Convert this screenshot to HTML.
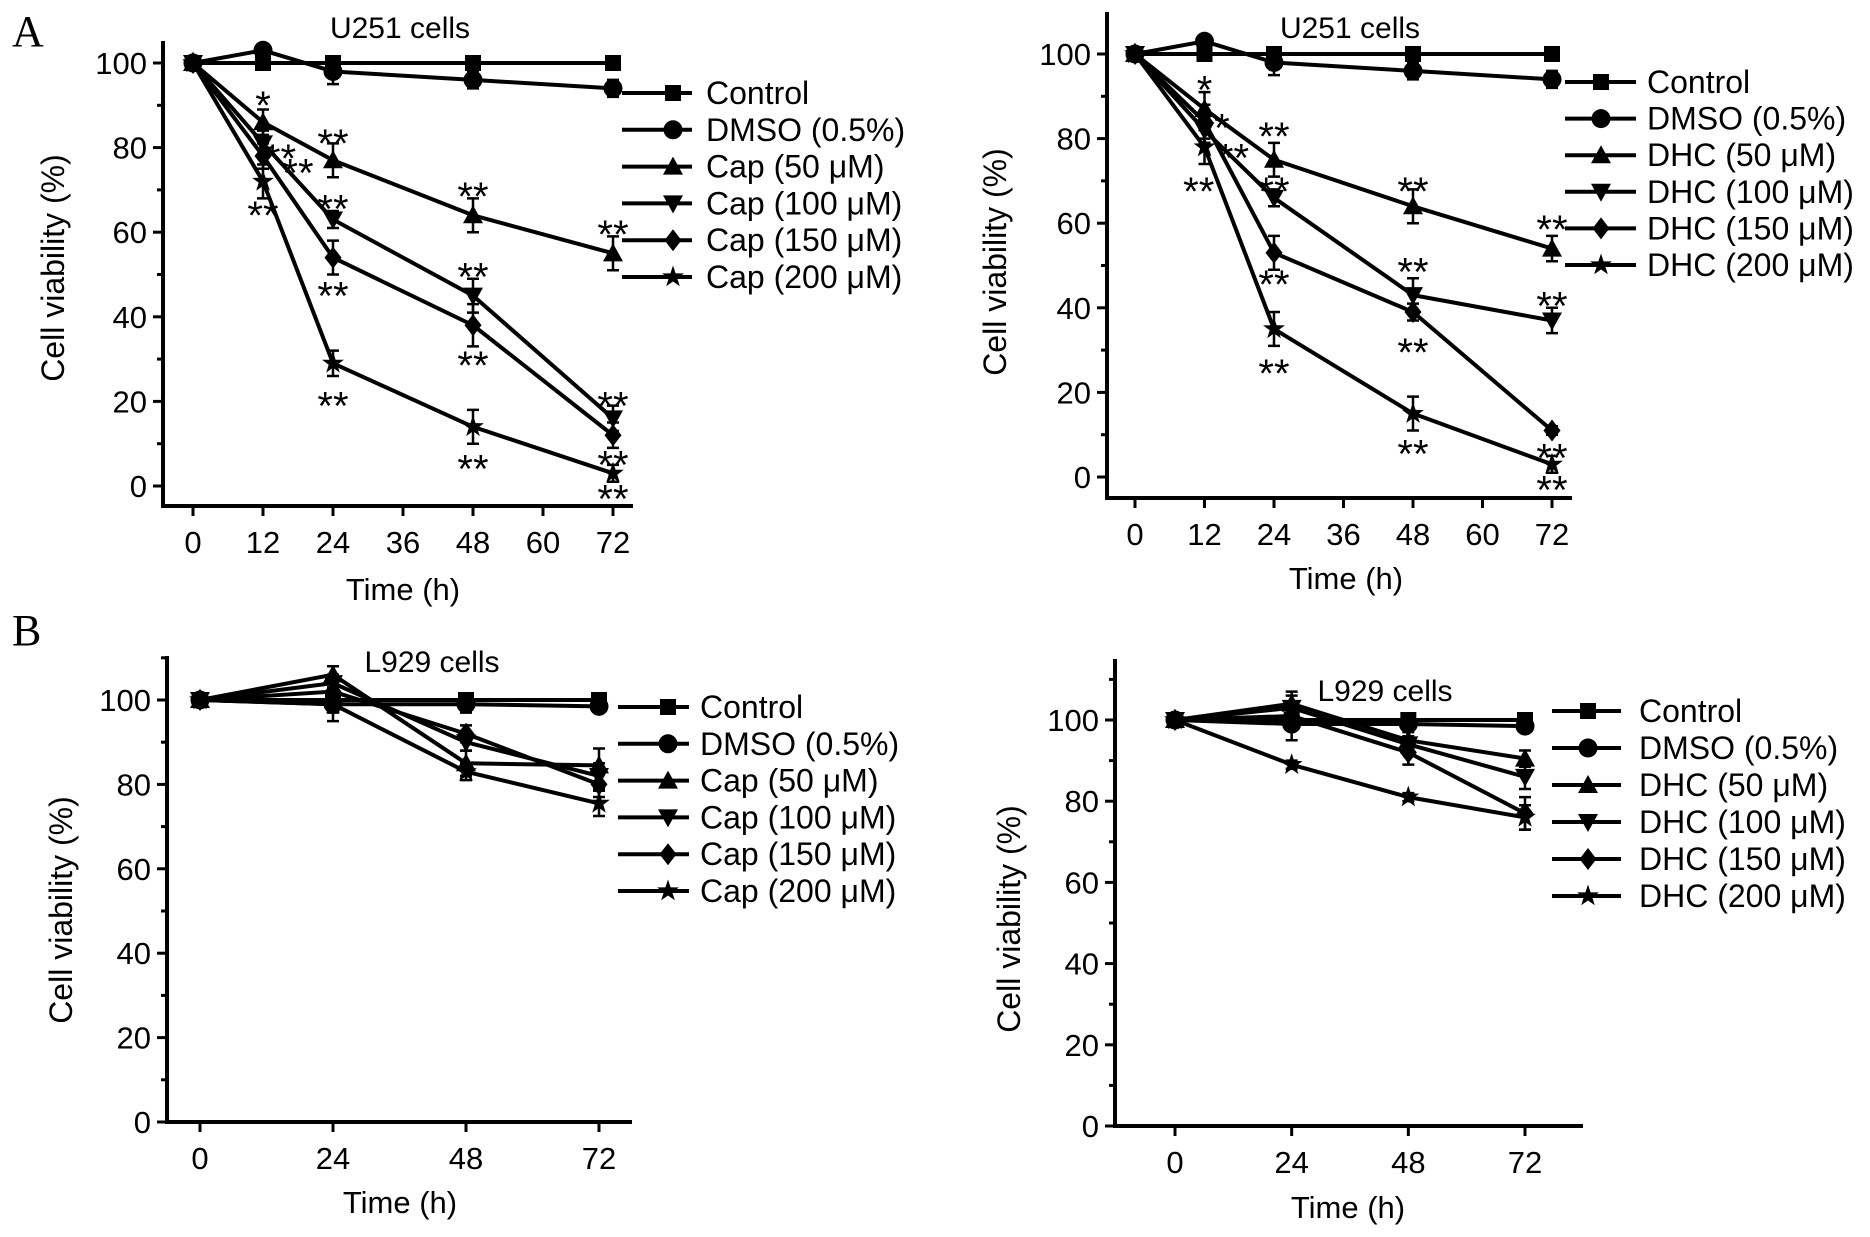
<!DOCTYPE html>
<html><head><meta charset="utf-8"><style>
html,body{margin:0;padding:0;background:#fff;}
svg{display:block;}
text{font-family:"Liberation Sans",Arial,sans-serif;fill:#000;}
</style></head><body>
<svg id="fig" width="1870" height="1237" viewBox="0 0 1870 1237" xmlns="http://www.w3.org/2000/svg">
<text x="12" y="46" style="font-family:'Liberation Serif',serif;font-size:44px">A</text>
<text x="12" y="645" style="font-family:'Liberation Serif',serif;font-size:44px">B</text>
</svg>
<script>
// ---- Data ----
const timesA = [0, 12, 24, 48, 72];
const timesB = [0, 24, 48, 72];
const ticksA = [0, 12, 24, 36, 48, 60, 72];
const ticksB = [0, 24, 48, 72];
const yTicks = [0, 20, 40, 60, 80, 100];
const capLabels = ["Control", "DMSO (0.5%)", "Cap (50 \u03bcM)", "Cap (100 \u03bcM)", "Cap (150 \u03bcM)", "Cap (200 \u03bcM)"];
const dhcLabels = ["Control", "DMSO (0.5%)", "DHC (50 \u03bcM)", "DHC (100 \u03bcM)", "DHC (150 \u03bcM)", "DHC (200 \u03bcM)"];
const markers = ["square", "circle", "tri-up", "tri-down", "diamond", "star"];

// A-left: Cap on U251
const capU251 = [
  [100, 100, 100, 100, 100],
  [100, 103, 98, 96, 94],
  [100, 86, 77, 64, 55],
  [100, 81, 63, 45, 16],
  [100, 78, 54, 38, 12],
  [100, 72, 29, 14, 3]
];
const capU251Err = [
  [0, 1, 1, 1, 1],
  [0, 1, 3, 2, 2],
  [0, 3, 4, 4, 4],
  [0, 3, 2, 4, 3],
  [0, 3, 4, 5, 3],
  [0, 4, 3, 4, 2]
];
const capU251Stars = [
  [12, 91.5, "*"], [15, 79, "**"], [12.5, 79.5, "*"], [18, 75.5, "**"], [12, 65.5, "**"],
  [24, 82.5, "**"], [24, 67, "**"], [24, 46.5, "**"], [24, 20.5, "**"],
  [48, 70, "**"], [48, 51, "**"], [48, 30, "**"], [48, 5.5, "**"],
  [72, 61, "**"], [72, 20.5, "**"], [72, 6.5, "**"], [72, -1.5, "**"]
];

// A-right: DHC on U251
const dhcU251 = [
  [100, 100, 100, 100, 100],
  [100, 103, 98, 96, 94],
  [100, 87, 75, 64, 54],
  [100, 82, 66, 43, 37],
  [100, 84, 53, 39, 11],
  [100, 78, 35, 15, 3]
];
const dhcU251Err = [
  [0, 1, 1, 1, 1],
  [0, 1, 3, 2, 2],
  [0, 4, 4, 4, 3],
  [0, 3, 2, 4, 3],
  [0, 4, 4, 2, 1],
  [0, 4, 4, 4, 2]
];
const dhcU251Stars = [
  [12, 93, "*"], [15, 84, "*"], [17, 77, "**"], [11, 69, "**"],
  [24, 82, "**"], [24, 69, "**"], [24, 47, "**"], [24, 26, "**"],
  [48, 69, "**"], [48, 50, "**"], [48, 31, "**"], [48, 7, "**"],
  [72, 60, "**"], [72, 42, "**"], [72, 6, "**"], [72, -1.5, "**"]
];

// B-left: Cap on L929
const capL929 = [
  [100, 100, 100, 100],
  [100, 99, 99, 98.5],
  [100, 106, 85, 84.5],
  [100, 104, 90, 82],
  [100, 102, 92, 80],
  [100, 99, 83, 75.5]
];
const capL929Err = [
  [0, 1, 1, 1],
  [0, 4, 2, 1],
  [0, 2, 3, 4],
  [0, 2, 2, 3],
  [0, 2, 2, 3],
  [0, 2, 2, 3]
];

// B-right: DHC on L929
const dhcL929 = [
  [100, 100, 100, 100],
  [100, 99, 99, 98.5],
  [100, 104, 95, 90.5],
  [100, 103, 94, 86],
  [100, 101, 92, 77],
  [100, 89, 81, 76]
];
const dhcL929Err = [
  [0, 1, 1, 1],
  [0, 4, 1, 1],
  [0, 3, 2, 2],
  [0, 3, 2, 3],
  [0, 2, 3, 4],
  [0, 1, 1, 3]
];

const NS = "http://www.w3.org/2000/svg";
const svg = document.getElementById("fig");
function mk(tag, attrs, parent) {
  const e = document.createElementNS(NS, tag);
  for (const k in attrs) e.setAttribute(k, attrs[k]);
  (parent || svg).appendChild(e);
  return e;
}

function drawMarker(g, type, cx, cy, s) {
  let e;
  if (type === "square") {
    e = mk("rect", {x: cx - s * 0.8, y: cy - s * 0.8, width: s * 1.6, height: s * 1.6, fill: "#000"}, g);
  } else if (type === "circle") {
    e = mk("circle", {cx: cx, cy: cy, r: s * 0.95, fill: "#000"}, g);
  } else if (type === "tri-up") {
    e = mk("polygon", {points: `${cx},${cy - s} ${cx - s},${cy + s * 0.8} ${cx + s},${cy + s * 0.8}`, fill: "#000"}, g);
  } else if (type === "tri-down") {
    e = mk("polygon", {points: `${cx},${cy + s} ${cx - s},${cy - s * 0.8} ${cx + s},${cy - s * 0.8}`, fill: "#000"}, g);
  } else if (type === "diamond") {
    e = mk("polygon", {points: `${cx},${cy - s * 1.1} ${cx + s * 0.85},${cy} ${cx},${cy + s * 1.1} ${cx - s * 0.85},${cy}`, fill: "#000"}, g);
  } else {
    let pts = [];
    for (let i = 0; i < 10; i++) {
      const r = i % 2 === 0 ? s * 1.15 : s * 0.45;
      const a = -Math.PI / 2 + i * Math.PI / 5;
      pts.push((cx + r * Math.cos(a)).toFixed(1) + "," + (cy + r * Math.sin(a)).toFixed(1));
    }
    e = mk("polygon", {points: pts.join(" "), fill: "#000"}, g);
  }
  
  
}

function drawPanel(p) {
  const g = mk("g", {});
  
  
  const X = t => p.x0 + (t - p.tmin) * (p.x72 - p.x0) / (72 - p.tmin);
  const Y = v => p.y0 + v * (p.y100 - p.y0) / 100;
  const ya = mk("line", {x1: p.yaxX, y1: p.axTop, x2: p.yaxX, y2: p.xaxY + 2, stroke: "#000", "stroke-width": 4}, g);
  
  
  const xa = mk("line", {x1: p.yaxX - 2, y1: p.xaxY, x2: p.axRight, y2: p.xaxY, stroke: "#000", "stroke-width": 4}, g);
  
  
  for (let v = 0; v <= p.ymax; v += 10) {
    const major = v % 20 === 0;
    const tk = mk("line", {x1: p.yaxX - (major ? 10 : 6), y1: Y(v), x2: p.yaxX, y2: Y(v), stroke: "#000", "stroke-width": 3}, g);
    
    
  }
  yTicks.forEach(v => {
    const t = mk("text", {x: p.yaxX - 16, y: Y(v) + 11, "text-anchor": "end", "font-size": 31}, g);
    t.textContent = v;
    
    
  });
  p.ticks.forEach(v => {
    const tk = mk("line", {x1: X(v), y1: p.xaxY, x2: X(v), y2: p.xaxY + 10, stroke: "#000", "stroke-width": 3}, g);
    
    
    const t = mk("text", {x: X(v), y: p.xaxY + 47, "text-anchor": "middle", "font-size": 31}, g);
    t.textContent = v;
    
    
  });
  const xt = mk("text", {x: p.xtX, y: p.xtY, "text-anchor": "middle", "font-size": 31}, g);
  xt.textContent = "Time (h)";
  
  
  const yt = mk("text", {x: 0, y: 0, "text-anchor": "middle", "font-size": 32, transform: `translate(${p.ytX},${p.ytY}) rotate(-90)`}, g);
  yt.textContent = "Cell viability (%)";
  
  
  const tt = mk("text", {x: p.titleX, y: p.titleY, "text-anchor": "middle", "font-size": 30}, g);
  tt.textContent = p.title;
  
  
  p.series.forEach((vals, i) => {
    const sg = mk("g", {}, g);
    
    
    const pts = vals.map((v, j) => X(p.times[j]) + "," + Y(v)).join(" ");
    const pl = mk("polyline", {points: pts, fill: "none", stroke: "#000", "stroke-width": 4, "stroke-linejoin": "round"}, sg);
    
    
    vals.forEach((v, j) => {
      const e = p.err[i][j];
      if (e > 0) {
        const cx = X(p.times[j]);
        const eb = mk("path", {d: `M${cx},${Y(v + e)}V${Y(v - e)}M${cx - 6},${Y(v + e)}H${cx + 6}M${cx - 6},${Y(v - e)}H${cx + 6}`, stroke: "#000", "stroke-width": 2.5, fill: "none"}, sg);
        
        
      }
      drawMarker(sg, markers[i], X(p.times[j]), Y(v), 10);
    });
  });
  (p.stars || []).forEach(s => {
    const t = mk("text", {x: X(s[0]), y: Y(s[1]) + 20, "text-anchor": "middle", "font-size": 40}, g);
    t.textContent = s[2];
    
    
  });
  p.labels.forEach((lab, i) => {
    const lg = mk("g", {}, g);
    
    
    const y = p.legY + i * p.legDy;
    mk("line", {x1: p.legX1, y1: y, x2: p.legX2, y2: y, stroke: "#000", "stroke-width": 4}, lg);
    drawMarker(lg, markers[i], p.legM, y, 10);
    const t = mk("text", {x: p.legT, y: y + 11, "font-size": 32}, lg);
    t.textContent = lab;
  });
}

drawPanel({name: "chart-cap-u251", title: "U251 cells", times: timesA, ticks: ticksA, tmin: 0, series: capU251, err: capU251Err, stars: capU251Stars, labels: capLabels,
  yaxX: 163, axTop: 41, xaxY: 506, axRight: 633, x0: 193, x72: 613, y0: 486, y100: 63, ymax: 100,
  xtX: 403, xtY: 600, ytX: 64, ytY: 268, titleX: 400, titleY: 38,
  legX1: 622, legX2: 692, legM: 673, legT: 706, legY: 93, legDy: 36.8});
drawPanel({name: "chart-dhc-u251", title: "U251 cells", times: timesA, ticks: ticksA, tmin: 0, series: dhcU251, err: dhcU251Err, stars: dhcU251Stars, labels: dhcLabels,
  yaxX: 1107, axTop: 12, xaxY: 498, axRight: 1572, x0: 1135, x72: 1552, y0: 477, y100: 54, ymax: 100,
  xtX: 1346, xtY: 589, ytX: 1006, ytY: 262, titleX: 1350, titleY: 38,
  legX1: 1565, legX2: 1636, legM: 1601, legT: 1647, legY: 82, legDy: 36.6});
drawPanel({name: "chart-cap-l929", title: "L929 cells", times: timesB, ticks: ticksB, tmin: 0, series: capL929, err: capL929Err, stars: [], labels: capLabels,
  yaxX: 167, axTop: 656, xaxY: 1122, axRight: 632, x0: 200, x72: 599, y0: 1122, y100: 700, ymax: 110,
  xtX: 400, xtY: 1213, ytX: 72, ytY: 910, titleX: 432, titleY: 672,
  legX1: 618, legX2: 689, legM: 668, legT: 700, legY: 707, legDy: 36.8});
drawPanel({name: "chart-dhc-l929", title: "L929 cells", times: timesB, ticks: ticksB, tmin: 0, series: dhcL929, err: dhcL929Err, stars: [], labels: dhcLabels,
  yaxX: 1115, axTop: 659, xaxY: 1126, axRight: 1583, x0: 1175, x72: 1525, y0: 1126, y100: 720, ymax: 110,
  xtX: 1348, xtY: 1218, ytX: 1020, ytY: 919, titleX: 1385, titleY: 701,
  legX1: 1552, legX2: 1621, legM: 1588, legT: 1639, legY: 711, legDy: 37});
</script>
</body></html>
